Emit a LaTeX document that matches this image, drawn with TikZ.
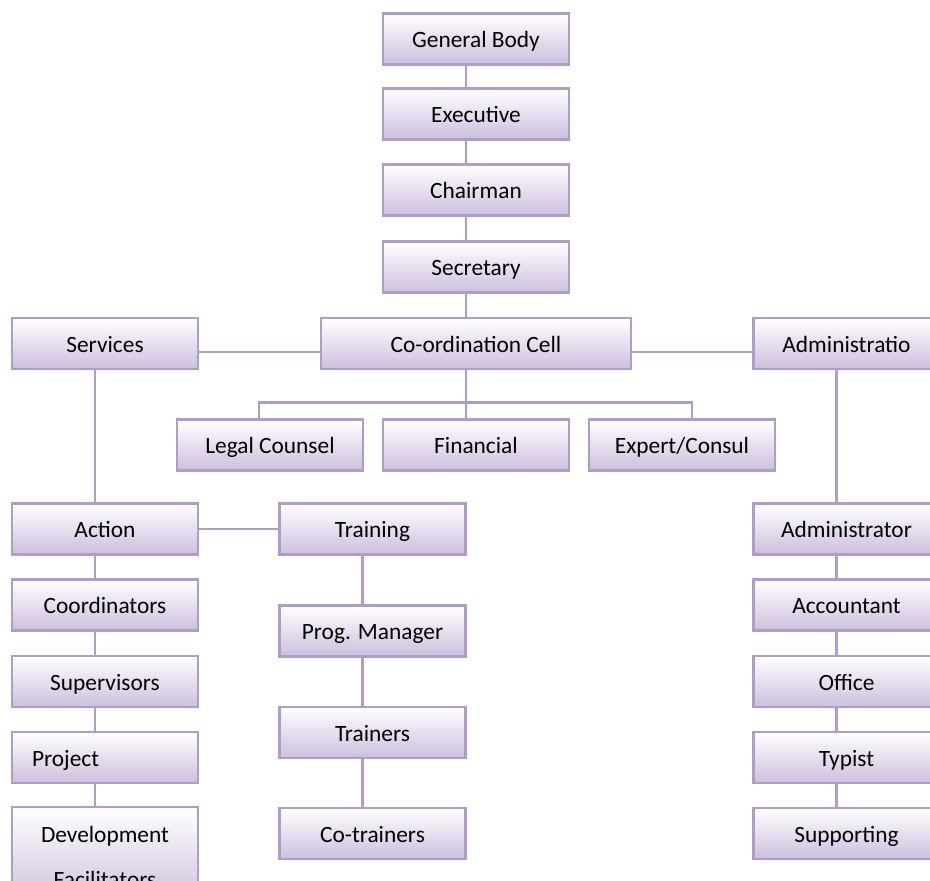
\documentclass[tikz,border=0pt]{standalone}
\usepackage{fontspec}
\setmainfont{Carlito}
\usepackage{xcolor}
\usetikzlibrary{calc, positioning}

\definecolor{boxline}{HTML}{B09CC9}
\definecolor{boxlow}{HTML}{CCBFDD}

\begin{document}
\begin{tikzpicture}[
        x=0.02cm, y=-0.02cm,
        font=\fontsize{13.3}{16}\selectfont,
        post/.style={draw=boxline, line width=1.4pt, top color=white,
            bottom color=boxlow, minimum width=3.72cm, minimum height=1.02cm,
            inner sep=2pt, text height=11.5pt, text depth=1.5pt},
        link/.style={draw=boxline, line width=1.4pt},
    ]

    \def\xl{105}
    \def\xt{372.5}
    \def\xm{476}
    \def\xr{846.5}
    \def\lx{-0.2cm}

    \useasboundingbox (0,0) rectangle (930,880);
    \clip (0,0) rectangle (930,880);

    % top chain
    \node[post] (gen) at (\xm,39) {General Body};
    \node[post] (exe) at (\xm,114) {Executive};
    \node[post] (chair) at (\xm,190) {Chairman};
    \node[post] (sec) at (\xm,267) {Secretary};
    \node[post, minimum width=6.2cm] (coord) at (\xm,343.5) {Co-ordination Cell};
    \node[post] (serv) at (\xl,343.5) {Services};
    \node[post] (admin) at (\xr,343.5) {Administratio};

    \node[post] (legal) at (270,445) {Legal Counsel};
    \node[post] (fin) at (476,445) {Financial};
    \node[post] (expert) at (682,445) {Expert/Consul};

    % services side
    \node[post] (action) at (\xl,529) {Action};
    \node[post] (coordr) at (\xl,605) {Coordinators};
    \node[post] (super) at (\xl,681.5) {Supervisors};
    \node[post, text width=2.92cm, align=left] (proj) at (\xl,757.5) {Project};
    \node[post, minimum height=1.96cm, align=center, text height=37pt,
        font=\fontsize{13.3}{25.5}\selectfont] (dev) at (\xl,856) {Development\\Facilitators};

    \node[post] (train) at (\xt,529) {Training};
    \node[post] (prog) at (\xt,631) {Prog. Manager};
    \node[post] (trainers) at (\xt,732.5) {Trainers};
    \node[post] (cotrain) at (\xt,833.5) {Co-trainers};

    % administration side
    \node[post] (adm) at (\xr,529) {Administrator};
    \node[post] (acct) at (\xr,605) {Accountant};
    \node[post] (office) at (\xr,681.5) {Office};
    \node[post] (typist) at (\xr,757.5) {Typist};
    \node[post] (supp) at (\xr,833.5) {Supporting};

    \foreach \a/\b in {gen/exe, exe/chair, chair/sec, sec/coord, coord/fin,
        serv/action, action/coordr, coordr/super, super/proj, proj/dev,
        train/prog, prog/trainers, trainers/cotrain,
        admin/adm, adm/acct, acct/office, office/typist, typist/supp}
        \draw[link] ([xshift=\lx]\a.south) -- ([xshift=\lx]\b.north);

    \draw[link] ([yshift=-0.17cm]serv.east) -- ([yshift=-0.17cm]coord.west);
    \draw[link] ([yshift=-0.17cm]coord.east) -- ([yshift=-0.17cm]admin.west);
    \draw[link] (action) -- (train);
    \draw[link] ([xshift=-0.22cm]legal.north) -- ++(0,-16) -| ([xshift=0.2cm]expert.north);

\end{tikzpicture}
\end{document}
